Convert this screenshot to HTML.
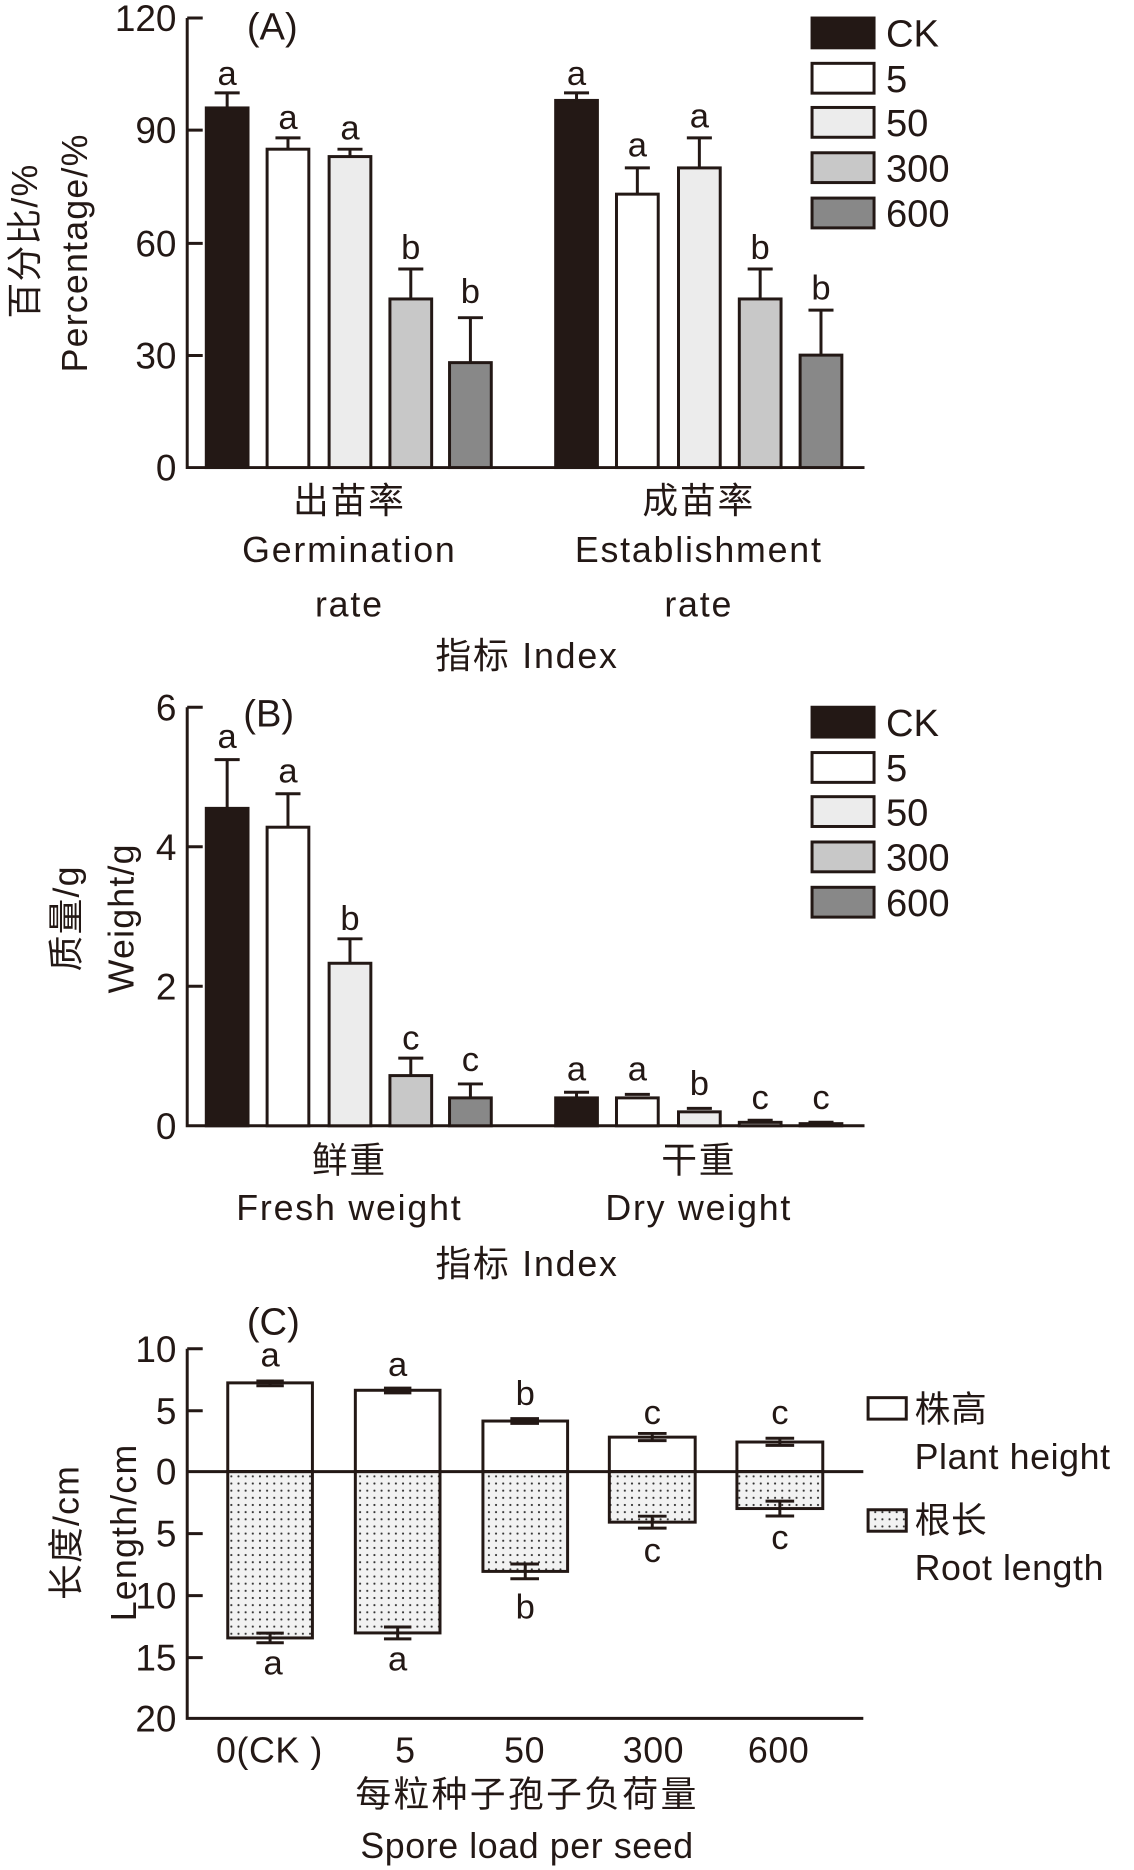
<!DOCTYPE html>
<html><head><meta charset="utf-8"><style>
html,body{margin:0;padding:0;background:#fff}
svg{display:block}
text{font-family:"Liberation Sans","Noto Sans CJK SC",sans-serif;fill:#231815}
</style></head><body>
<svg width="1134" height="1870" viewBox="0 0 951 1568" xmlns="http://www.w3.org/2000/svg">
<defs>
<pattern id="dots" width="6" height="6" patternUnits="userSpaceOnUse">
<rect width="6" height="6" fill="#f2f2f2"/><circle cx="2" cy="2" r="0.9" fill="#333"/>
</pattern>
</defs>
<g stroke="#231815" stroke-width="2.5" fill="none">
<path d="M157 15 V392 H725"/>
<path d="M157 15 H170 M157 109 H170 M157 204 H170 M157 298 H170"/>
<path d="M157 593 V944 H725"/>
<path d="M157 593 H170 M157 710 H170 M157 827 H170"/>
<path d="M157 1131 V1441 H724"/>
<path d="M157 1131 H170 M157 1183 H170 M157 1286 H170 M157 1338 H170 M157 1390 H170"/>
</g>
<g font-size="31" text-anchor="end">
<text x="148" y="26">120</text><text x="148" y="120">90</text><text x="148" y="215">60</text><text x="148" y="309">30</text><text x="148" y="403">0</text>
<text x="148" y="604">6</text><text x="148" y="721">4</text><text x="148" y="838">2</text><text x="148" y="955">0</text>
<text x="148" y="1142">10</text><text x="148" y="1194">5</text><text x="148" y="1245">0</text><text x="148" y="1297">5</text><text x="148" y="1349">10</text><text x="148" y="1401">15</text><text x="148" y="1452">20</text>
</g>
<g font-size="32">
<text x="207" y="33">(A)</text><text x="204" y="609">(B)</text><text x="207" y="1119">(C)</text>
</g>
<g stroke="#231815" stroke-width="2.5">
<rect x="173" y="90.4" width="35" height="301.6" fill="#231815"/>
<rect x="224" y="125" width="35" height="267" fill="#fff"/>
<rect x="276" y="131.2" width="35" height="260.8" fill="#ececec"/>
<rect x="327" y="250.6" width="35" height="141.4" fill="#c8c8c8"/>
<rect x="377" y="304" width="35" height="88" fill="#888"/>
<rect x="466" y="84.1" width="35" height="307.9" fill="#231815"/>
<rect x="517" y="162.7" width="35" height="229.3" fill="#fff"/>
<rect x="569" y="140.7" width="35" height="251.3" fill="#ececec"/>
<rect x="620" y="250.6" width="35" height="141.4" fill="#c8c8c8"/>
<rect x="671" y="297.7" width="35" height="94.3" fill="#888"/>
<path fill="none" d="M190.5 90 V77.8 M180 77.8 H201 M241.5 125 V115.5 M231 115.5 H252 M293.5 131 V125 M283 125 H304 M344.5 250 V225.5 M334 225.5 H355 M394.5 304 V266.3 M384 266.3 H405
M483.5 84 V77.8 M473 77.8 H494 M534.5 162 V140.7 M524 140.7 H545 M586.5 140 V115.5 M576 115.5 H597 M637.5 250 V225.5 M627 225.5 H648 M688.5 297 V260 M678 260 H699"/>
</g>
<g font-size="29" text-anchor="middle">
<text x="190.5" y="71">a</text><text x="241.5" y="108">a</text><text x="293.5" y="117">a</text><text x="344.5" y="217">b</text><text x="394.5" y="254">b</text>
<text x="483.5" y="71">a</text><text x="534.5" y="131">a</text><text x="586.5" y="107">a</text><text x="637.5" y="217">b</text><text x="688.5" y="251">b</text>
</g>
<g stroke="#231815" stroke-width="2.5">
<rect x="681" y="15" width="52" height="25" fill="#231815"/>
<rect x="681" y="53" width="52" height="25" fill="#fff"/>
<rect x="681" y="90" width="52" height="25" fill="#ececec"/>
<rect x="681" y="128" width="52" height="25" fill="#c8c8c8"/>
<rect x="681" y="166" width="52" height="25" fill="#888"/>
<rect x="681" y="593" width="52" height="25" fill="#231815"/>
<rect x="681" y="631" width="52" height="25" fill="#fff"/>
<rect x="681" y="668" width="52" height="25" fill="#ececec"/>
<rect x="681" y="706" width="52" height="25" fill="#c8c8c8"/>
<rect x="681" y="744" width="52" height="25" fill="#888"/>
</g>
<g font-size="32">
<text x="743" y="39">CK</text><text x="743" y="77">5</text><text x="743" y="114">50</text><text x="743" y="152">300</text><text x="743" y="190">600</text>
<text x="743" y="617">CK</text><text x="743" y="655">5</text><text x="743" y="692">50</text><text x="743" y="730">300</text><text x="743" y="768">600</text>
</g>
<g font-size="30" text-anchor="middle" letter-spacing="1.5">
<text x="293" y="430">出苗率</text><text x="293" y="471">Germination</text><text x="293" y="517">rate</text>
<text x="586" y="430">成苗率</text><text x="586" y="471">Establishment</text><text x="586" y="517">rate</text>
<text x="442" y="560">指标 Index</text>
<text x="293" y="983">鲜重</text><text x="293" y="1023">Fresh weight</text>
<text x="586" y="983">干重</text><text x="586" y="1023">Dry weight</text>
<text x="442" y="1070">指标 Index</text>
</g>
<g font-size="30" text-anchor="middle" letter-spacing="1">
<text transform="translate(31,202) rotate(-90)">百分比/%</text>
<text transform="translate(73,212) rotate(-90)">Percentage/%</text>
<text transform="translate(66,770) rotate(-90)">质量/g</text>
<text transform="translate(112,770) rotate(-90)">Weight/g</text>
<text transform="translate(66,1285) rotate(-90)">长度/cm</text>
<text transform="translate(114,1285) rotate(-90)">Length/cm</text>
</g>
<g stroke="#231815" stroke-width="2.5">
<rect x="173" y="677.8" width="35" height="266.2" fill="#231815"/>
<rect x="224" y="693.6" width="35" height="250.4" fill="#fff"/>
<rect x="276" y="807.7" width="35" height="136.3" fill="#ececec"/>
<rect x="327" y="901.9" width="35" height="42.1" fill="#c8c8c8"/>
<rect x="377" y="920.6" width="35" height="23.4" fill="#888"/>
<rect x="466" y="920.6" width="35" height="23.4" fill="#231815"/>
<rect x="517" y="920.6" width="35" height="23.4" fill="#fff"/>
<rect x="569" y="932.3" width="35" height="11.7" fill="#ececec"/>
<rect x="620" y="941.1" width="35" height="2.9" fill="#c8c8c8"/>
<rect x="671" y="942.2" width="35" height="1.8" fill="#888"/>
<path fill="none" d="M190.5 677 V636.9 M180 636.9 H201 M241.5 693 V665.5 M231 665.5 H252 M293.5 807 V787.2 M283 787.2 H304 M344.5 901 V887.3 M334 887.3 H355 M394.5 920 V908.9 M384 908.9 H405
M483.5 920 V915.9 M473 915.9 H494 M524 917.7 H545 M576 929.4 H597 M627 939.3 H648 M678 941 H699"/>
</g>
<g font-size="29" text-anchor="middle">
<text x="190.5" y="627">a</text><text x="241.5" y="656">a</text><text x="293.5" y="780">b</text><text x="344.5" y="880">c</text><text x="394.5" y="898">c</text>
<text x="483.5" y="906">a</text><text x="534.5" y="906">a</text><text x="586.5" y="918">b</text><text x="637.5" y="930">c</text><text x="688.5" y="930">c</text>
</g>
<g stroke="#231815" stroke-width="2.5">
<rect x="191" y="1159.6" width="71" height="74.4" fill="#fff"/>
<rect x="298" y="1165.8" width="71" height="68.2" fill="#fff"/>
<rect x="405" y="1191.6" width="71" height="42.4" fill="#fff"/>
<rect x="511" y="1205.1" width="72" height="28.9" fill="#fff"/>
<rect x="618" y="1209.2" width="72" height="24.8" fill="#fff"/>
<rect x="191" y="1234" width="71" height="139.5" fill="url(#dots)"/>
<rect x="298" y="1234" width="71" height="135.3" fill="url(#dots)"/>
<rect x="405" y="1234" width="71" height="83.7" fill="url(#dots)"/>
<rect x="511" y="1234" width="72" height="42.4" fill="url(#dots)"/>
<rect x="618" y="1234" width="72" height="31" fill="url(#dots)"/>
<path fill="none" d="M215 1158 H238 M215 1162 H238 M322 1164 H345 M322 1168 H345 M428 1189.6 H452 M428 1193.6 H452 M535 1202 H559 M535 1208 H559 M642 1206 H666 M642 1212 H666
M226.5 1158 V1162 M333.5 1164 V1168 M547 1202 V1208 M654 1206 V1212
M215 1369.5 H238 M215 1377.5 H238 M226.5 1369.5 V1377.5
M322 1364.3 H345 M322 1374.3 H345 M333.5 1364.3 V1374.3
M428 1311.5 H452 M428 1323.9 H452 M440.5 1311.5 V1323.9
M535 1271.4 H559 M535 1281.4 H559 M547 1271.4 V1281.4
M642 1258.8 H666 M642 1271.2 H666 M654 1258.8 V1271.2"/>
<path d="M157 1234 H724" stroke-width="2.5"/>
<rect x="728" y="1172" width="32" height="18" fill="#fff"/>
<rect x="728" y="1266" width="32" height="18" fill="url(#dots)"/>
</g>
<g font-size="29" text-anchor="middle">
<text x="226.5" y="1146">a</text><text x="333.5" y="1154">a</text><text x="440.5" y="1178">b</text><text x="547" y="1194">c</text><text x="654" y="1194">c</text>
<text x="229" y="1404">a</text><text x="333.5" y="1401">a</text><text x="440.5" y="1357">b</text><text x="547" y="1310">c</text><text x="654" y="1299">c</text>
</g>
<g font-size="30" letter-spacing="0.5">
<text x="767" y="1192">株高</text><text x="767" y="1232">Plant height</text>
<text x="767" y="1285">根长</text><text x="767" y="1325">Root length</text>
</g>
<g font-size="30" text-anchor="middle" letter-spacing="0.5">
<text x="226" y="1478">0(CK )</text><text x="340" y="1478">5</text><text x="440" y="1478">50</text><text x="548" y="1478">300</text><text x="653" y="1478">600</text>
<text x="442" y="1515" letter-spacing="2">每粒种子孢子负荷量</text>
<text x="442" y="1558">Spore load per seed</text>
</g>
</svg>
</body></html>
